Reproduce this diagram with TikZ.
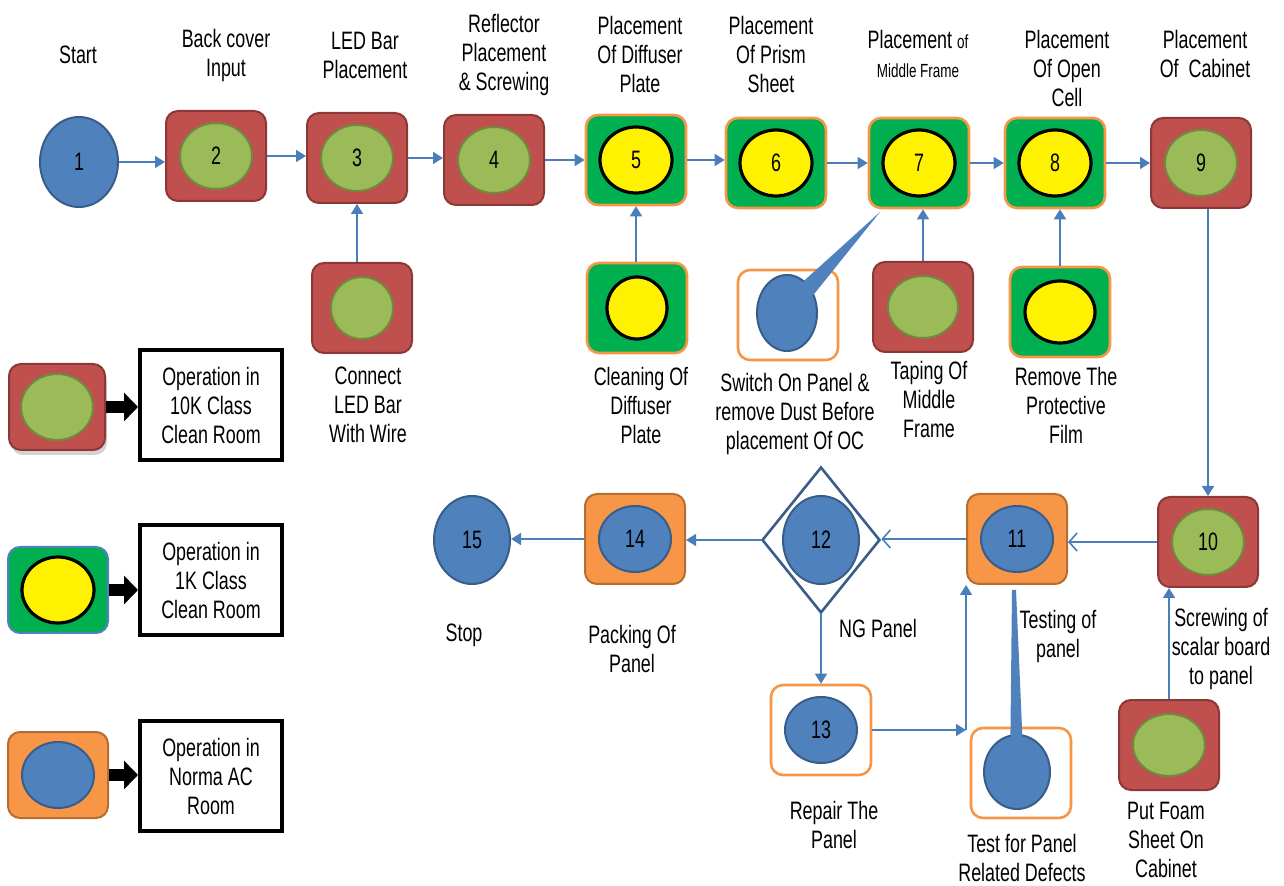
\documentclass[tikz,border=0pt]{standalone}
\usepackage{fontspec}
\setmainfont{Liberation Sans}[FakeStretch=0.71]
\usetikzlibrary{arrows.meta,shapes.geometric,shadows}
\definecolor{boxred}{HTML}{C0504D}
\definecolor{boxredline}{HTML}{8C3836}
\definecolor{boxgreen}{HTML}{00B050}
\definecolor{boxorange}{HTML}{F79646}
\definecolor{boxorangeline}{HTML}{B66D31}
\definecolor{dotgreen}{HTML}{9BBB59}
\definecolor{dotgreenline}{HTML}{71893F}
\definecolor{dotblue}{HTML}{4F81BD}
\definecolor{dotblueline}{HTML}{385D8A}
\definecolor{linkblue}{HTML}{4A7EBB}
\tikzset{
  box/.style={rectangle, rounded corners=6pt, minimum width=50pt, minimum height=45pt, line width=1pt},
  redbox/.style={box, fill=boxred, draw=boxredline},
  greenbox/.style={box, fill=boxgreen, draw=boxorange, line width=1.3pt},
  orangebox/.style={box, fill=boxorange, draw=boxorangeline},
  whitebox/.style={box, fill=white, draw=boxorange, line width=1.3pt},
  dot/.style={ellipse, minimum width=36pt, minimum height=33pt, inner sep=0pt, line width=1pt, font=\fontsize{12.6}{14.5}\selectfont},
  greendot/.style={dot, fill=dotgreen, draw=dotgreenline},
  yellowdot/.style={dot, fill=yellow, draw=black, line width=1.6pt},
  bluedot/.style={dot, fill=dotblue, draw=dotblueline},
  lbl/.style={align=center, inner sep=0pt, font=\fontsize{12.6}{14.5}\selectfont},
  legbox/.style={lbl, draw=black, line width=2pt, minimum width=71pt, minimum height=55pt},
  flow/.style={draw=linkblue, line width=0.8pt, -{Triangle[length=5pt,width=6pt]}},
  flowopen/.style={draw=linkblue, line width=0.8pt, -{Straight Barb[length=4pt,width=9pt]}},
  legarrow/.style={line width=6pt, -{Triangle[length=7pt,width=14pt]}}
}
\begin{document}
\begin{tikzpicture}[x=0.5pt,y=-0.5pt]
\useasboundingbox (0,0) rectangle (1284,886);
% start and stop
\node[bluedot, minimum width=39pt, minimum height=45pt] (e1) at (79,162) {1};
\node[bluedot, minimum width=38pt, minimum height=44pt] (e15) at (472,540) {15};
% numbered steps: number/x/y/box/dot
\foreach \n/\x/\y/\b/\d in {2/216/156/redbox/greendot, 3/357/158/redbox/greendot,
  4/494/160/redbox/greendot, 5/636/160/greenbox/yellowdot, 6/776/163/greenbox/yellowdot,
  7/919/163/greenbox/yellowdot, 8/1055/163/greenbox/yellowdot, 9/1201/163/redbox/greendot,
  10/1208/542/redbox/greendot, 11/1017/539/orangebox/bluedot, 14/635/539/orangebox/bluedot,
  13/821/730/whitebox/bluedot}
{\node[\b] (b\n) at (\x,\y) {};
 \node[\d] (e\n) at (b\n) {\n};}
% side steps without number: name/x/y/box/dot/width
\foreach \s/\x/\y/\b/\d/\w in {c/362/308/redbox/greendot/31, d/637/308/greenbox/yellowdot/30,
  t/923/307/redbox/greendot/35, p/1060/312/greenbox/yellowdot/35, f/1169/745/redbox/greendot/36}
{\node[\b] (b\s) at (\x,\y) {};
 \node[\d, minimum width=\w pt, minimum height=31pt] (e\s) at (b\s) {};}
% decision
\node[diamond, draw=dotblueline, line width=1.3pt, minimum width=59pt, minimum height=73pt, inner sep=0pt] (d12) at (821,540) {};
\node[bluedot, minimum width=38pt, minimum height=44pt] (e12) at (d12) {12};
% callouts
\node[whitebox] (bs) at (788,315) {};
\node[bluedot, minimum width=30pt, minimum height=38pt] (es) at (787,313) {};
\coordinate (ts) at (880,212);
\fill[dotblue] (ts) -- (es.35) -- (es.center) -- (es.62) -- cycle;
\node[whitebox] (bx) at (1021,773) {};
\node[bluedot, minimum width=33pt, minimum height=37pt] (ex) at (1017,772) {};
\coordinate (tx) at (1012,590);
\fill[dotblue] (tx) -- ++(4,0) -- (ex.82) -- (ex.center) -- (ex.100) -- cycle;
% main flow
\draw[flow] (e1.east) -- (e1.east -| b2.west);
\foreach \p/\q in {2/3,3/4,4/5,5/6,6/7,7/8,8/9}
\draw[flow] (b\p.east) -- (b\p.east -| b\q.west);
\draw[flow] (b3.south |- bc.north) -- (b3.south);
\draw[flow] (b5.south |- bd.north) -- (b5.south);
\draw[flow] (bt.north) -- (bt.north |- b7.south);
\draw[flow] (bp.north) -- (bp.north |- b8.south);
\draw[flow] (b10.north |- b9.south) -- (b10.north);
\draw[flowopen] (b10.west) -- (b10.west -| b11.east);
\draw[flowopen] (b11.west) -- (b11.west -| d12.east);
\draw[flow] (d12.west) -- (d12.west -| b14.east);
\draw[flow] (b14.west) -- (b14.west -| e15.east);
\draw[flow] (d12.south) -- (d12.south |- b13.north);
\coordinate (j) at (b11.south west |- b13.east);
\draw[flow] (b13.east) -- (j);
\draw[flow] (j) -- (b11.south west);
\draw[flow] (bf.north) -- (bf.north |- b10.south);
% labels: name/x/y/text
\foreach \s/\x/\y/\t in {1/78/55/Start, 2/226/55/{Back cover\\Input}, 3/365/55/{LED Bar\\Placement},
  4/504/55/{Reflector\\Placement\\\& Screwing}, 5/640/55/{Placement\\Of Diffuser\\Plate},
  6/771/55/{Placement\\Of Prism\\Sheet},
  7/918/54/{Placement {\fontsize{9.5}{11}\selectfont of}\\{\fontsize{9.5}{11}\selectfont Middle Frame}},
  8/1067/69/{Placement\\Of Open\\Cell}, 9/1205/54/{Placement\\Of\ \ Cabinet},
  c/368/405/{Connect\\LED Bar\\With Wire}, d/641/405/{Cleaning Of\\Diffuser\\Plate},
  s/795/414/{Switch On Panel \&\\remove Dust Before\\placement Of OC},
  t/929/399/{Taping Of\\Middle\\Frame}, p/1066/405/{Remove The\\Protective\\Film},
  15/464/635/Stop, 14/632/649/{Packing Of\\Panel}, 12/878/628/{NG Panel},
  11/1058/636/{Testing of\\panel}, 10/1221/649/{Screwing of\\scalar board\\to panel},
  13/834/825/{Repair The\\Panel}, x/1022/858/{Test for Panel\\Related Defects},
  f/1166/840/{Put Foam\\Sheet On\\Cabinet}}
\node[lbl] (l\s) at (\x,\y) {\t};
% legend
\node[redbox, minimum width=48pt, minimum height=43pt, drop shadow={opacity=0.35, shadow xshift=1pt, shadow yshift=-2.5pt}] (lr) at (57,407) {};
\node[greendot] at (lr) {};
\node[greenbox, draw=dotblue, line width=1pt, minimum height=43pt] (lg) at (58,590) {};
\node[yellowdot] at (lg) {};
\node[orangebox, minimum height=43pt] (lo) at (58,775) {};
\node[bluedot] at (lo) {};
\node[legbox] (tr) at (211,405) {Operation in\\10K Class\\Clean Room};
\node[legbox] (tg) at (211,580) {Operation in\\1K Class\\Clean Room};
\node[legbox] (to) at (211,776) {Operation in\\Norma AC\\Room};
\draw[legarrow] (lr.east) -- (lr.east -| tr.west);
\draw[legarrow] (lg.east) -- (lg.east -| tg.west);
\draw[legarrow] (lo.east) -- (lo.east -| to.west);
\end{tikzpicture}
\end{document}
